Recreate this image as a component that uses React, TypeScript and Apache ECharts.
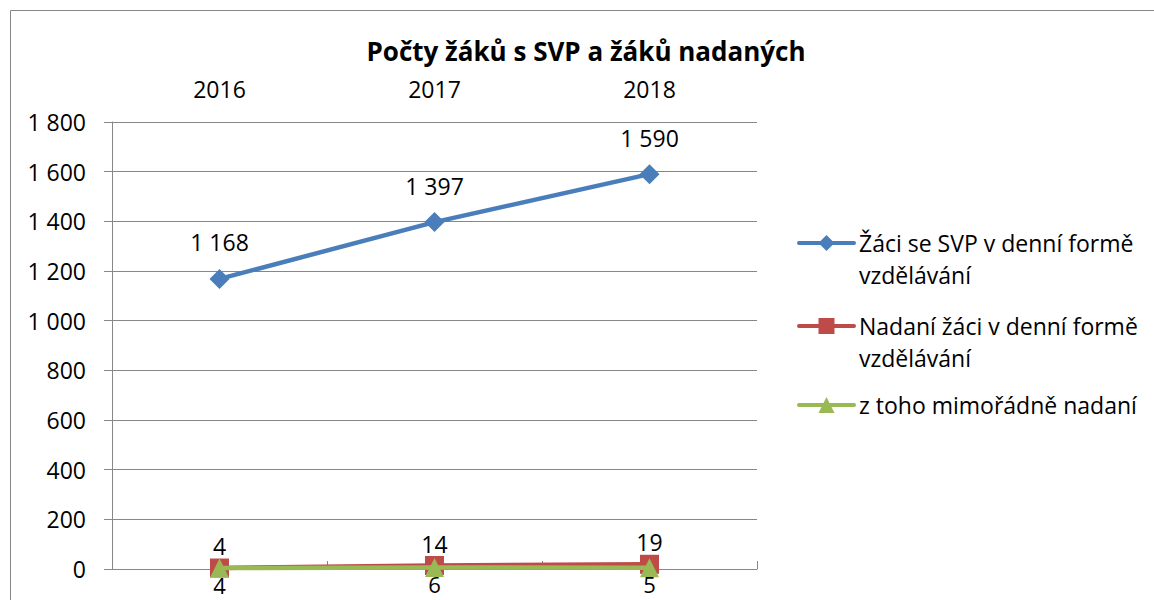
import React, { useEffect, useRef } from "react";
import * as echarts from "echarts";

const years = ["2016", "2017", "2018"];
const svp = [1168, 1397, 1590];
const nadani = [4, 14, 19];
const mimoradne = [4, 6, 5];
const seriesNames = [
  "Žáci se SVP v denní formě vzdělávání",
  "Nadaní žáci v denní formě vzdělávání",
  "z toho mimořádně nadaní",
];
const legendTexts = [
  "\nŽáci se SVP v denní formě\nvzdělávání",
  "\nNadaní žáci v denní formě\nvzdělávání",
  "z toho mimořádně nadaní",
];

const FONT = "Open Sans";
const fmt = (v: number) => String(v).replace(/\B(?=(\d{3})+(?!\d))/g, " ");

export default function App() {
  const ref = useRef<HTMLDivElement>(null);
  useEffect(() => {
    const chart = echarts.init(ref.current!, null, { renderer: "svg" });
    const colors = ["#4A7EBB", "#BE4B48", "#98B954"];
    const legendTops = [195, 278, 389];
    const legends = seriesNames.map((n, i) => ({
      show: true,
      orient: "vertical",
      left: 797,
      top: legendTops[i],
      padding: 0,
      itemWidth: 55,
      itemHeight: 20,
      itemGap: 0,
      data: [n],
      formatter: (name: string) => legendTexts[seriesNames.indexOf(name)],
      lineStyle: { width: 4, cap: "round" },
      textStyle: {
        fontFamily: FONT,
        fontSize: 23,
        color: "#000",
        lineHeight: 32,
      },
    }));
    const labelBase = {
      show: true,
      fontFamily: FONT,
      fontSize: 23,
      color: "#000",
      formatter: (p: any) => fmt(p.value),
    };
    chart.setOption({
      animation: false,
      title: {
        text: "Počty žáků s SVP a žáků nadaných",
        left: 581,
        top: 33,
        textAlign: "center",
        textStyle: { fontFamily: FONT, fontSize: 26, fontWeight: "bold", color: "#000" },
      },
      graphic: [
        {
          type: "rect",
          shape: { x: 10.5, y: 10.5, width: 1300, height: 800 },
          style: { fill: "none", stroke: "#878787", lineWidth: 1 },
          silent: true,
        },
      ],
      legend: legends,
      grid: { left: 112, right: 397, top: 122, bottom: 31 },
      xAxis: {
        type: "category",
        position: "top",
        data: years,
        boundaryGap: true,
        axisLine: { lineStyle: { color: "#878787", width: 1 } },
        axisTick: { show: true, length: 8, lineStyle: { color: "#878787" } },
        axisLabel: { fontFamily: FONT, fontSize: 23, color: "#000", margin: 22 },
      },
      yAxis: {
        type: "value",
        min: 0,
        max: 1800,
        interval: 200,
        axisLine: { show: true, lineStyle: { color: "#878787", width: 1 } },
        axisTick: { show: true, length: 8, lineStyle: { color: "#878787" } },
        axisLabel: {
          fontFamily: FONT,
          fontSize: 23,
          color: "#000",
          margin: 26,
          formatter: (v: number) => fmt(v),
        },
        splitLine: { lineStyle: { color: "#878787", width: 1 } },
      },
      series: [
        {
          name: seriesNames[0],
          type: "line",
          data: svp,
          color: colors[0],
          symbol: "diamond",
          symbolSize: 20,
          lineStyle: { width: 4.5, color: colors[0] },
          itemStyle: { color: colors[0] },
          label: { ...labelBase, position: "top", distance: 15 },
          z: 3,
        },
        {
          name: seriesNames[1],
          type: "line",
          data: nadani,
          color: colors[1],
          symbol: "rect",
          symbolSize: 19,
          lineStyle: { width: 4.5, color: colors[1] },
          itemStyle: { color: colors[1] },
          label: { ...labelBase, position: "top", distance: 1 },
          z: 4,
        },
        {
          name: seriesNames[2],
          type: "line",
          data: mimoradne,
          color: colors[2],
          symbol: "triangle",
          symbolSize: 19,
          lineStyle: { width: 4.5, color: colors[2] },
          itemStyle: { color: colors[2] },
          label: { ...labelBase, fontSize: 22, position: "bottom", distance: -2, lineHeight: 18 },
          z: 5,
        },
      ],
    });
    return () => chart.dispose();
  }, []);
  return (
    <div
      ref={ref}
      style={{ position: "fixed", left: 0, top: 0, width: 1154, height: 600, background: "#fff" }}
    />
  );
}
